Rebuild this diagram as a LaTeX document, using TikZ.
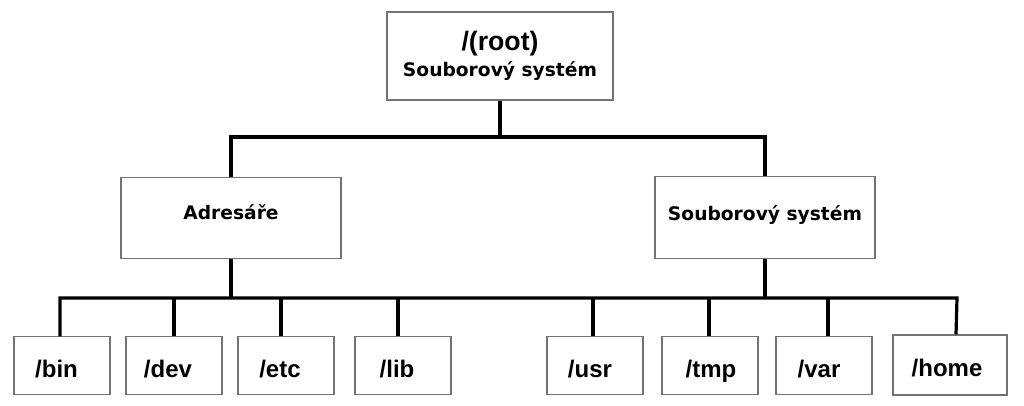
\documentclass[tikz,border=0pt]{standalone}
\usepackage{fontspec}
\newfontfamily\arialb{Liberation Sans}[BoldFont=*,UprightFont=* Bold]
\newfontfamily\dejab{DejaVu Sans Bold}
\usetikzlibrary{calc}
\newcommand{\lsh}[2]{\hspace*{#1}#2}
\tikzset{
  box/.style={draw=black!55, line width=0.8pt, fill=white, inner sep=0pt},
  dirbox/.style={box, minimum width=72pt, minimum height=43pt, text height=21pt, text depth=3.75pt, font=\arialb\fontsize{18}{20}\selectfont},
  midbox/.style={box, minimum width=165pt, minimum height=61pt, font=\dejab\fontsize{14}{16}\selectfont},
  conn/.style={line width=2.4pt, black}
}
\begin{document}
\begin{tikzpicture}[x=0.75pt,y=-0.75pt]
\useasboundingbox (0,0) rectangle (1024,405);
% root
\node[box, minimum width=169.5pt, minimum height=66pt, align=center] (root) at (500,56)
  {{\arialb\fontsize{20}{22}\selectfont /(root)}\\[3pt]{\dejab\fontsize{14}{16}\selectfont Souborový systém}};
% middle level
\node[midbox, text height=10pt, text depth=8.5pt] (adr) at (231,218) {Adresáře};
\node[midbox, text height=10pt, text depth=6.25pt] (sys) at (765,217.5) {Souborový systém};
% bottom level
\node[dirbox] (bin) at (62,365.5) {\lsh{-8.2pt}{/bin}};
\node[dirbox] (dev) at (174,365.5) {\lsh{-9pt}{/dev}};
\node[dirbox] (etc) at (286,365.5) {\lsh{-9pt}{/etc}};
\node[dirbox] (lib) at (403,365.5) {\lsh{-9pt}{/lib}};
\node[dirbox] (usr) at (595,365.5) {\lsh{-7.5pt}{/usr}};
\node[dirbox] (tmp) at (710,365.5) {\lsh{1.5pt}{/tmp}};
\node[dirbox] (var) at (824,365.5) {\lsh{-7.5pt}{/var}};
\node[dirbox, minimum width=85.5pt, minimum height=45pt] (home) at (950,365) {\lsh{-4.5pt}{/home}};
% connectors level 1
\coordinate (j1) at (500,137);
\draw[conn] (root.south) -- (j1);
\draw[conn] (j1) -| (adr.north);
\draw[conn] (j1) -| (sys.north);
% connectors level 2
\coordinate (bl) at (60,298);
\coordinate (br) at (957,298);
\draw[conn] (adr.south) -- (adr.south |- bl);
\draw[conn] (sys.south) -- (sys.south |- bl);
\draw[conn] ([xshift=-1.5pt]bin.north) -- ([xshift=-1.5pt]bin.north |- bl) -- (br) -- ([xshift=4.5pt]home.north);
\draw[conn] (dev.north) -- (dev.north |- bl);
\draw[conn] ([xshift=-3.75pt]etc.north) -- ([xshift=-3.75pt]etc.north |- bl);
\draw[conn] ([xshift=-3.75pt]lib.north) -- ([xshift=-3.75pt]lib.north |- bl);
\draw[conn] ([xshift=-1.5pt]usr.north) -- ([xshift=-1.5pt]usr.north |- bl);
\draw[conn] ([xshift=-0.75pt]tmp.north) -- ([xshift=-0.75pt]tmp.north |- bl);
\draw[conn] ([xshift=3pt]var.north) -- ([xshift=3pt]var.north |- bl);
\end{tikzpicture}
\end{document}
